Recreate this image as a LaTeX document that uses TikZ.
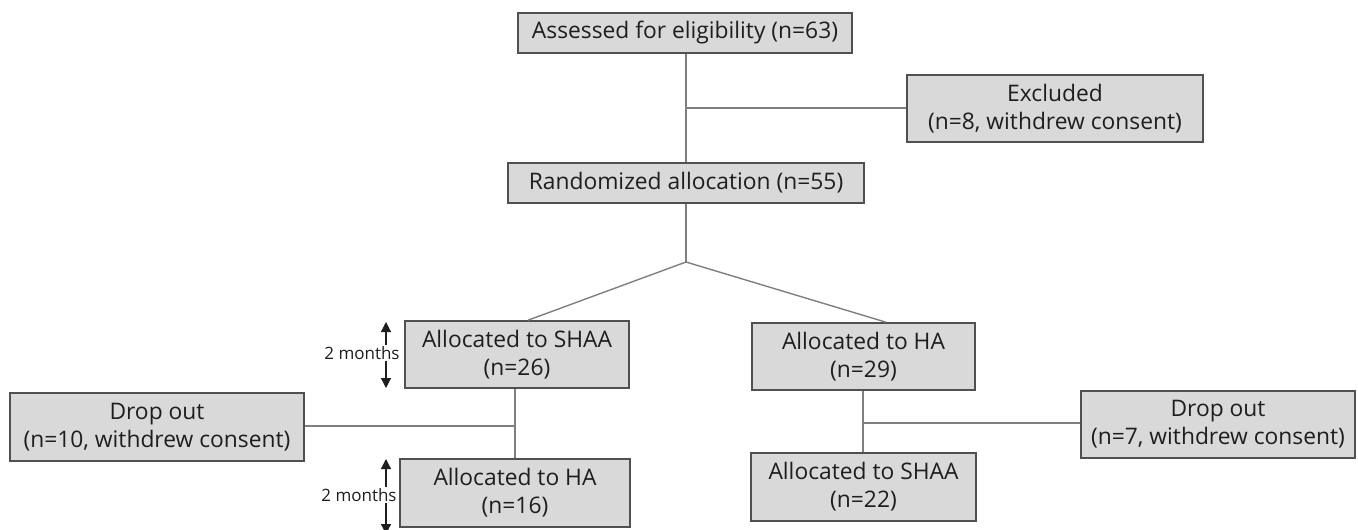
\documentclass[tikz,border=0pt]{standalone}
\usepackage{fontspec}
\setmainfont{Open Sans}
\usetikzlibrary{arrows.meta,calc}
\definecolor{boxfill}{HTML}{D9D9D9}
\definecolor{boxline}{HTML}{505050}
\definecolor{conn}{HTML}{7F7F7F}
\definecolor{txt}{HTML}{1E1E1E}
\begin{document}
\begin{tikzpicture}[x=1pt,y=-1pt,
  box/.style={draw=boxline,line width=1.6pt,fill=boxfill,rectangle,inner sep=0pt,
    align=center,text=txt,font=\fontsize{22.8}{28}\selectfont},
  link/.style={draw=conn,line width=1.4pt},
  months/.style={fill=white,inner sep=1pt,text=txt,font=\fontsize{17}{18}\selectfont},
  span/.style={line width=1.2pt,draw=txt,{Triangle[length=10pt,width=10pt]}-{Triangle[length=10pt,width=10pt]}}]
\useasboundingbox (0,0) rectangle (1358,530);
% boxes
\node[box,minimum width=334pt,minimum height=40pt] (assess) at (685,33) {Assessed for eligibility (n=63)};
\node[box,minimum width=356pt,minimum height=40pt] (rand) at (686,183) {Randomized allocation (n=55)};
\node[box,minimum width=296pt,minimum height=67pt] (excl) at (1055,108.5) {Excluded\\ (n=8, withdrew consent)};
\node[box,minimum width=224pt,minimum height=67pt] (shaa1) at (517,354.5) {Allocated to SHAA\\(n=26)};
\node[box,minimum width=223pt,minimum height=67pt] (ha1) at (863.5,356.5) {Allocated to HA\\(n=29)};
\node[box,minimum width=294pt,minimum height=68pt] (dropL) at (157,427) {Drop out\\ (n=10, withdrew consent)};
\node[box,minimum width=230pt,minimum height=68pt] (ha2) at (515,493) {Allocated to HA\\(n=16)};
\node[box,minimum width=225pt,minimum height=68pt] (shaa2) at (863.5,487) {Allocated to SHAA\\(n=22)};
\node[box,minimum width=274pt,minimum height=67pt] (dropR) at (1218,424.5) {Drop out\\(n=7, withdrew consent)};
% junctions
\coordinate (j1) at (686,108);
\coordinate (split) at (686,262);
\coordinate (j2) at (515,426);
\coordinate (j3) at (863,423);
% connectors
\draw[link] (assess.south -| j1) -- (rand.north -| j1);
\draw[link] (j1) -- (excl.west |- j1);
\draw[link] (rand.south -| split) -- (split);
\draw[link] (split) -- ([xshift=11pt]shaa1.north);
\draw[link] (split) -- ([xshift=22.5pt]ha1.north);
\draw[link] (shaa1.south -| j2) -- (ha2.north -| j2);
\draw[link] (j2) -- (dropL.east |- j2);
\draw[link] (ha1.south -| j3) -- (shaa2.north -| j3);
\draw[link] (j3) -- (dropR.west |- j3);
% 2 months spans
\coordinate (m1a) at (386,322);
\coordinate (m1b) at (386,388);
\coordinate (m2a) at (386,459);
\coordinate (m2b) at (386,534);
\draw[span] (m1a) -- (m1b);
\node[months] (lab1) at (362,353) {2 months};
\draw[span] (m2a) -- (m2b);
\node[months] (lab2) at (359,495) {2 months};
\end{tikzpicture}
\end{document}
